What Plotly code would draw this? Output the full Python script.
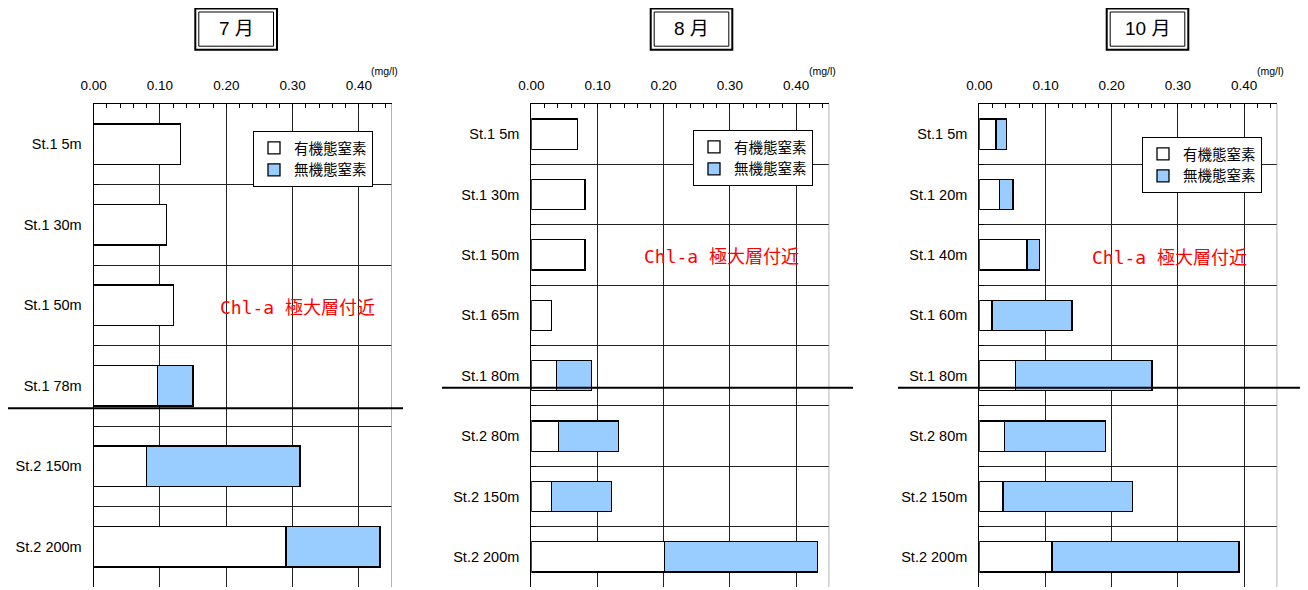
import plotly.graph_objects as go

# the page body keeps its default 8px margin, so the figure is drawn 8px smaller
# and every reference pixel position is shifted by that offset
OFF = 8
W, H = 1308 - OFF, 590 - OFF

months = ['7 月', '8 月', '10 月']
legend_names = ['有機態窒素', '無機態窒素']
note_text = 'Chl-a 極大層付近'
unit_text = '(mg/l)'

jul_sites = ['St.1 5m', 'St.1 30m', 'St.1 50m', 'St.1 78m', 'St.2 150m', 'St.2 200m']
jul_org = [0.131, 0.110, 0.120, 0.096, 0.080, 0.290]
jul_inorg = [None, None, None, 0.054, 0.231, 0.142]

aug_sites = ['St.1 5m', 'St.1 30m', 'St.1 50m', 'St.1 65m', 'St.1 80m', 'St.2 80m', 'St.2 150m', 'St.2 200m']
aug_org = [0.070, 0.081, 0.081, 0.030, 0.038, 0.041, 0.030, 0.201]
aug_inorg = [None, None, None, None, 0.053, 0.091, 0.091, 0.231]

oct_sites = ['St.1 5m', 'St.1 20m', 'St.1 40m', 'St.1 60m', 'St.1 80m', 'St.2 80m', 'St.2 150m', 'St.2 200m']
oct_org = [0.025, 0.030, 0.072, 0.019, 0.055, 0.038, 0.036, 0.110]
oct_inorg = [0.016, 0.021, 0.019, 0.121, 0.206, 0.153, 0.195, 0.282]

FONT = 'Liberation Sans, Arial, Noto Sans CJK JP'


def px(x):
    return (x - OFF) / W


def py(y):
    return 1 - (y - OFF) / H


panels = [
    dict(sites=jul_sites, org=jul_org, inorg=jul_inorg, left=93.7, right=392.0,
         title_box=(195.3, 277.0), legend=(373, 131), note=(297.5, 307), unit=384.7,
         sep_after='St.1 78m', sep_off=0.28, sep_x=(5, 403)),
    dict(sites=aug_sites, org=aug_org, inorg=aug_inorg, left=531.3, right=829.3,
         title_box=(650.7, 732.3), legend=(813, 130), note=(721.3, 256.7), unit=822.0,
         sep_after='St.1 80m', sep_off=0.2, sep_x=(442, 853)),
    dict(sites=oct_sites, org=oct_org, inorg=oct_inorg, left=979.3, right=1277.3,
         title_box=(1106.7, 1188.3), legend=(1262, 137), note=(1169.0, 257.3), unit=1270.0,
         sep_after='St.1 80m', sep_off=0.2, sep_x=(898, 1316)),
]

fig = go.Figure()
layout = dict(
    width=W, height=H, margin=dict(l=0, r=0, t=0, b=0, autoexpand=False),
    paper_bgcolor='white', plot_bgcolor='white',
    barmode='stack', bargap=0.5, font=dict(family=FONT, color='black'),
)
shapes = []
annotations = []

for i, p in enumerate(panels):
    n = '' if i == 0 else str(i + 1)
    xa, ya = 'x' + n, 'y' + n
    lg = 'legend' + n

    fig.add_trace(go.Bar(
        y=p['sites'], x=p['org'], orientation='h', name=legend_names[0],
        xaxis=xa, yaxis=ya, legend=lg, width=0.5,
        marker=dict(color='white', line=dict(color='black', width=1.3)),
    ))
    fig.add_trace(go.Bar(
        y=p['sites'], x=p['inorg'], orientation='h', name=legend_names[1],
        xaxis=xa, yaxis=ya, legend=lg, width=0.5,
        marker=dict(color='#99ccff', line=dict(color='black', width=1.3)),
    ))

    layout['xaxis' + n] = dict(
        domain=[px(p['left']), px(p['right'])], anchor=ya, side='top',
        range=[0, 0.45], dtick=0.1, tickformat='.2f', fixedrange=True, automargin=False,
        showline=True, linecolor='black', linewidth=1.2,
        showgrid=True, gridcolor='#222222', gridwidth=1, zeroline=False,
        ticks='inside', ticklen=4, tickcolor='black',
        minor=dict(dtick=0.02, ticks='inside', ticklen=4, tickcolor='black', showgrid=False),
        tickfont=dict(size=13.5), ticklabelstandoff=8,
    )
    layout['yaxis' + n] = dict(
        domain=[py(587), py(104)], anchor=xa, type='category', automargin=False,
        categoryorder='array', categoryarray=p['sites'], autorange='reversed',
        tickson='boundaries', showgrid=True, gridcolor='#222222', gridwidth=1,
        showline=True, linecolor='black', linewidth=1.2,
        ticks='inside', ticklen=5, tickcolor='black', fixedrange=True,
        tickfont=dict(size=14.5), ticklabelstandoff=8,
    )
    lx, ly = p['legend']
    layout[lg] = dict(
        x=px(lx), y=py(ly), xanchor='right', yanchor='top', xref='paper', yref='paper',
        bgcolor='white', bordercolor='black', borderwidth=1,
        font=dict(size=14.5, family=FONT), itemwidth=30, tracegroupgap=0,
        traceorder='normal',
    )

    # right border of the plot
    shapes.append(dict(type='line', xref=xa, yref=ya + ' domain', x0=0.45, x1=0.45,
                       y0=0, y1=1, line=dict(color='#9a9a9a', width=1.5)))
    # St.1 / St.2 separator
    sep_y = p['sites'].index(p['sep_after']) + p['sep_off']
    shapes.append(dict(type='line', xref='paper', yref=ya, x0=px(max(p['sep_x'][0], OFF)),
                       x1=px(p['sep_x'][1]), y0=sep_y, y1=sep_y,
                       line=dict(color='black', width=2)))
    # double framed month title
    bx0, bx1 = p['title_box']
    shapes.append(dict(type='rect', xref='paper', yref='paper', x0=px(bx0), x1=px(bx1),
                       y0=py(49.7), y1=py(8.5), line=dict(color='black', width=2)))
    shapes.append(dict(type='rect', xref='paper', yref='paper', x0=px(bx0 + 3.5), x1=px(bx1 - 3.5),
                       y0=py(46.2), y1=py(12), line=dict(color='black', width=1)))
    annotations.append(dict(text=months[i], xref='paper', yref='paper',
                            x=px((bx0 + bx1) / 2), y=py(29), xanchor='center', yanchor='middle',
                            showarrow=False, font=dict(size=19, family=FONT)))
    nx, ny = p['note']
    annotations.append(dict(text=note_text, xref='paper', yref='paper', x=px(nx), y=py(ny),
                            xanchor='center', yanchor='middle', showarrow=False,
                            font=dict(size=18, color='#ff0000',
                                      family='DejaVu Sans Mono, Noto Sans CJK JP')))
    annotations.append(dict(text=unit_text, xref='paper', yref='paper', x=px(p['unit']),
                            y=py(71), xanchor='center', yanchor='middle', showarrow=False,
                            font=dict(size=10.5, family=FONT)))

layout['shapes'] = shapes
layout['annotations'] = annotations
fig.update_layout(**layout)

fig.write_html('out.html')
